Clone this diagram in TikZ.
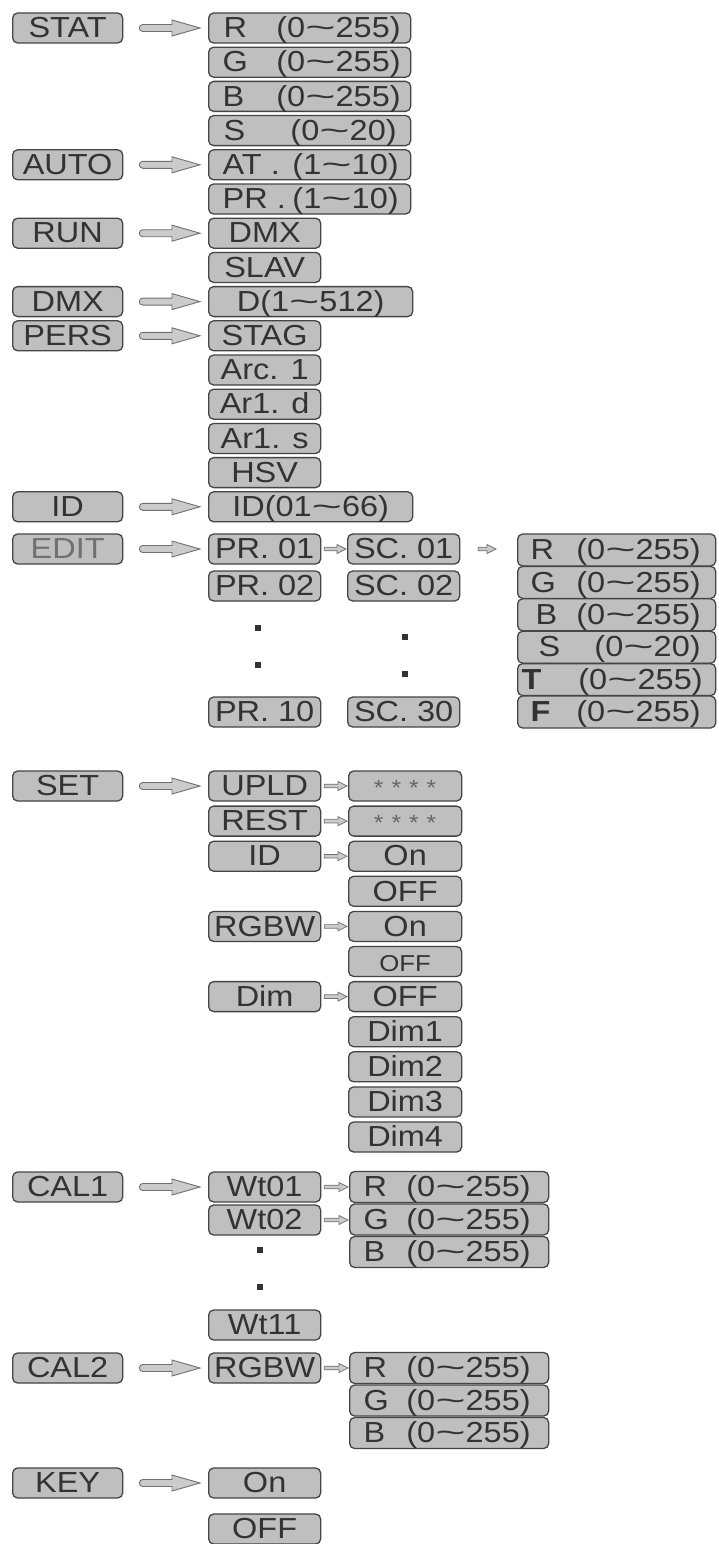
\documentclass[tikz,border=0pt]{standalone}
\usepackage{fontspec}
\usepackage{graphicx}
\newfontfamily\df[FakeStretch=1.12]{Liberation Sans}
\usetikzlibrary{calc}
\definecolor{boxfill}{HTML}{BFBFBF}
\definecolor{boxdraw}{HTML}{454545}
\definecolor{txt}{HTML}{333333}
\definecolor{arrfill}{HTML}{CBCBCB}
\definecolor{arrdraw}{HTML}{707070}
\newcommand\tl{\scalebox{1.6}[1]{\char"007E\relax}}
\newcommand\lr[5]{\hbox to #1pt{\hskip#2pt #3\hfil #4\hskip#5pt}}
\newcommand\stars{*\hskip8pt*\hskip8pt*\hskip8pt*}
\tikzset{
  mbox/.style={draw=boxdraw, fill=boxfill, line width=1.3pt, rounded corners=5pt,
    minimum height=30pt, inner sep=0pt, anchor=west, text=txt,
    text height=20.5pt, text depth=1pt, font=\df\fontsize{29}{30}\selectfont},
  colone/.style={mbox, minimum width=110pt},
  short/.style={mbox, minimum width=112pt},
  long/.style={mbox, minimum width=202pt},
  vlong/.style={mbox, minimum width=204pt},
  side/.style={mbox, minimum width=113pt},
  starbox/.style={side, font=\df\fontsize{22}{24}\selectfont, text=txt!75},
  rcol/.style={mbox, minimum width=198pt, minimum height=32pt},
  ccol/.style={mbox, minimum width=199pt, minimum height=31pt},
  dotn/.style={fill=txt, minimum size=6pt, inner sep=0pt, rectangle},
  bigarr/.style={fill=arrfill, draw=arrdraw, line width=0.9pt, to path={
    let \p1=(\tikztostart.east), \p2=(\tikztotarget.west) in
    (\x1+19.5pt,\y1+3.5pt) -- (\x2-36pt,\y1+3.5pt) -- (\x2-36pt,\y1+8pt) -- (\x2-8pt,\y1)
    -- (\x2-36pt,\y1-8pt) -- (\x2-36pt,\y1-3.5pt) -- (\x1+19.5pt,\y1-3.5pt)
    arc[start angle=270, end angle=90, radius=3.5pt] -- cycle}},
  smallarr/.style={fill=arrfill, draw=arrdraw, line width=0.7pt, to path={
    let \p1=(\tikztostart.east), \p2=(\tikztotarget.west) in
    (\x1+3pt,\y1+1.8pt) -- (\x2-10pt,\y1+1.8pt) -- (\x2-10pt,\y1+4.5pt) -- (\x2-1pt,\y1)
    -- (\x2-10pt,\y1-4.5pt) -- (\x2-10pt,\y1-1.8pt) -- (\x1+3pt,\y1-1.8pt) -- cycle}},
  freearr/.style={fill=arrfill, draw=arrdraw, line width=0.7pt, to path={
    let \p1=(\tikztostart.east), \p2=(\tikztotarget.west) in
    (\x1+18pt,\y1+1.8pt) -- (\x2-30pt,\y1+1.8pt) -- (\x2-30pt,\y1+4.5pt) -- (\x2-21pt,\y1)
    -- (\x2-30pt,\y1-4.5pt) -- (\x2-30pt,\y1-1.8pt) -- (\x1+18pt,\y1-1.8pt) -- cycle}},
}
\begin{document}
\begin{tikzpicture}[x=1pt,y=-1pt]
\fill[white] (0,0) rectangle (718,1544);
\useasboundingbox (0,0) rectangle (718,1544);

% ---- STAT
\node[colone] (stat) at (12,28) {STAT};
\node[long] (sr) at (208,28) {\lr{202}{15}{R}{(0\tl255)}{10}};
\node[long] (sg) at (208,62.2) {\lr{202}{14}{G}{(0\tl255)}{10}};
\node[long] (sb) at (208,96.4) {\lr{202}{14}{B}{(0\tl255)}{10}};
\node[long] (ss) at (208,130.6) {\lr{202}{15}{S}{(0\tl20)}{14}};
\draw[bigarr] (stat) to (sr);
% ---- AUTO
\node[colone] (auto) at (12,164.8) {AUTO};
\node[long] (at) at (208,164.8) {\lr{202}{14}{AT .}{(1\tl10)}{12}};
\node[long] (apr) at (208,199) {\lr{202}{14}{PR .}{(1\tl10)}{12}};
\draw[bigarr] (auto) to (at);
% ---- RUN
\node[colone] (run) at (12,233.2) {RUN};
\node[short] (rdmx) at (208,233.2) {DMX};
\node[short] (slav) at (208,267.4) {SLAV};
\draw[bigarr] (run) to (rdmx);
% ---- DMX
\node[colone] (dmx) at (12,301.6) {DMX};
\node[vlong] (dd) at (208,301.6) {D(1\tl512)};
\draw[bigarr] (dmx) to (dd);
% ---- PERS
\node[colone] (pers) at (12,335.8) {PERS};
\node[short] (stag) at (208,335.8) {STAG};
\node[short] (arc) at (208,370) {Arc. 1};
\node[short] (ard) at (208,404.2) {Ar1. d};
\node[short] (ars) at (208,438.4) {Ar1. s};
\node[short] (hsv) at (208,472.6) {HSV};
\draw[bigarr] (pers) to (stag);
% ---- ID
\node[colone] (id) at (12,506.8) {ID};
\node[vlong] (idr) at (208,506.8) {ID(01\tl66)};
\draw[bigarr] (id) to (idr);
% ---- EDIT
\node[colone, text=txt!70] (edit) at (12,549) {EDIT};
\node[short] (pr1) at (208,549) {PR. 01};
\node[short] (pr2) at (208,586) {PR. 02};
\node[dotn] (pd1) at (258,628) {};
\node[dotn] (pd2) at (258,665) {};
\node[short] (pr10) at (208,712) {PR. 10};
\node[short] (sc1) at (347,549) {SC. 01};
\node[short] (sc2) at (347,586) {SC. 02};
\node[dotn] (sd1) at (405,637) {};
\node[dotn] (sd2) at (405,674) {};
\node[short] (sc30) at (347,712) {SC. 30};
\node[rcol] (er) at (517,550) {\lr{198}{13}{R}{(0\tl255)}{15}};
\node[rcol] (eg) at (517,582.4) {\lr{198}{13}{G}{(0\tl255)}{15}};
\node[rcol] (eb) at (517,614.8) {\lr{198}{18}{B}{(0\tl255)}{15}};
\node[rcol] (es) at (517,647.2) {\lr{198}{21}{S}{(0\tl20)}{15}};
\node[rcol] (et) at (517,679.6) {\lr{198}{4}{\textbf{T}}{(0\tl255)}{13}};
\node[rcol] (ef) at (517,712) {\lr{198}{13}{\textbf{F}}{(0\tl255)}{15}};
\draw[bigarr] (edit) to (pr1);
\draw[smallarr] (pr1) to (sc1);
\draw[freearr] (sc1) to (er);
% ---- SET
\node[colone] (set) at (12,786) {SET};
\node[short] (upld) at (208,786) {UPLD};
\node[short] (rest) at (208,821.1) {REST};
\node[short] (sid) at (208,856.2) {ID};
\node[short] (rgbw) at (208,926.4) {RGBW};
\node[short] (dim) at (208,996.6) {Dim};
\node[starbox] (st1) at (348,786) {\stars};
\node[starbox] (st2) at (348,821.1) {\stars};
\node[side] (ion) at (348,856.2) {On};
\node[side] (ioff) at (348,891.3) {OFF};
\node[side] (ron) at (348,926.4) {On};
\node[side, font=\df\fontsize{23}{25}\selectfont] (roff) at (348,961.5) {OFF};
\node[side] (doff) at (348,996.6) {OFF};
\node[side] (d1) at (348,1031.7) {Dim1};
\node[side] (d2) at (348,1066.8) {Dim2};
\node[side] (d3) at (348,1101.9) {Dim3};
\node[side] (d4) at (348,1137) {Dim4};
\draw[bigarr] (set) to (upld);
\draw[smallarr] (upld) to (st1);
\draw[smallarr] (rest) to (st2);
\draw[smallarr] (sid) to (ion);
\draw[smallarr] (rgbw) to (ron);
\draw[smallarr] (dim) to (doff);
% ---- CAL1
\node[colone] (cal1) at (12,1187) {CAL1};
\node[short] (w1) at (208,1187) {Wt01};
\node[short] (w2) at (208,1220) {Wt02};
\node[dotn] (wd1) at (260,1250) {};
\node[dotn] (wd2) at (260,1287) {};
\node[short] (w11) at (208,1325) {Wt11};
\node[ccol] (cr) at (349,1187) {\lr{199}{14}{R}{(0\tl255)}{18}};
\node[ccol] (cg) at (349,1219.5) {\lr{199}{14}{G}{(0\tl255)}{18}};
\node[ccol] (cb) at (349,1252) {\lr{199}{14}{B}{(0\tl255)}{18}};
\draw[bigarr] (cal1) to (w1);
\draw[smallarr] (w1) to (cr);
\draw[smallarr] (w2) to (cg);
% ---- CAL2
\node[colone] (cal2) at (12,1368) {CAL2};
\node[short] (crgbw) at (208,1368) {RGBW};
\node[ccol] (kr) at (349,1368) {\lr{199}{14}{R}{(0\tl255)}{18}};
\node[ccol] (kg) at (349,1400.5) {\lr{199}{14}{G}{(0\tl255)}{18}};
\node[ccol] (kb) at (349,1433) {\lr{199}{14}{B}{(0\tl255)}{18}};
\draw[bigarr] (cal2) to (crgbw);
\draw[smallarr] (crgbw) to (kr);
% ---- KEY
\node[colone] (key) at (12,1483) {KEY};
\node[short] (kon) at (208,1483) {On};
\node[short] (koff) at (208,1529) {OFF};
\draw[bigarr] (key) to (kon);
\end{tikzpicture}
\end{document}
